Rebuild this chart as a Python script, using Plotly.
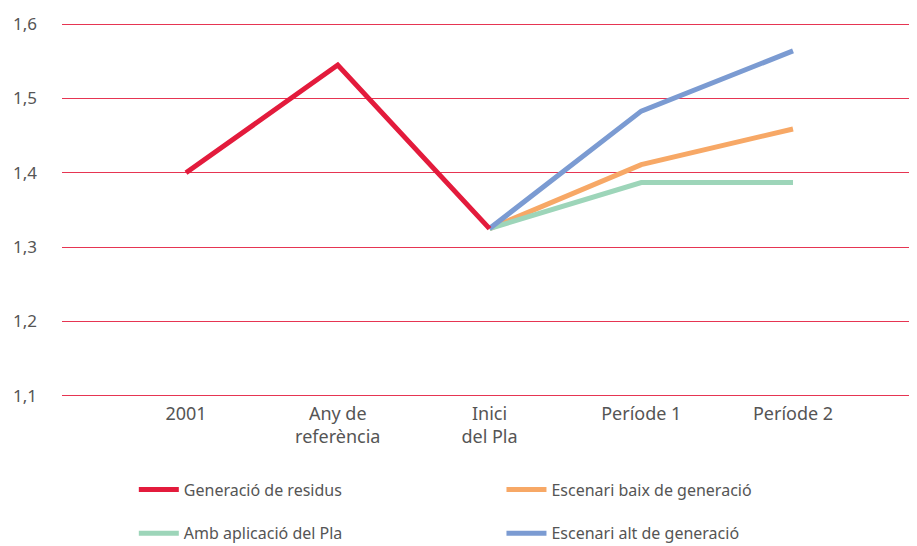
import plotly.graph_objects as go

categories = ["2001", "Any de<br>referència", "Inici<br>del Pla", "Període 1", "Període 2"]
generacio = [1.40, 1.545, 1.325, None, None]
baix = [None, None, 1.325, 1.411, 1.459]
amb_pla = [None, None, 1.325, 1.387, 1.387]
alt = [None, None, 1.325, 1.483, 1.564]
y_ticks = [1.1, 1.2, 1.3, 1.4, 1.5, 1.6]

FONT = "Noto Sans"
GRAY = "#555555"

fig = go.Figure()
series = [
    ("Generació de residus", generacio, "#e31b3c", "legend", "g1"),
    ("Escenari baix de generació", baix, "#f7a866", "legend2", "g2"),
    ("Amb aplicació del Pla", amb_pla, "#9dd5b9", "legend", "g3"),
    ("Escenari alt de generació", alt, "#7b9bd2", "legend2", "g4"),
]
x_idx = list(range(len(categories)))
order = [1, 2, 3, 0]
for i in order:
    name, vals, col, leg, grp = series[i]
    fig.add_trace(go.Scatter(
        x=x_idx, y=vals, mode="lines", name=name,
        line=dict(color=col, width=5),
        legend=leg, legendgroup=grp, legendrank=i,
        connectgaps=False, hoverinfo="skip",
    ))

# page has an 8px body margin, so the figure is drawn offset by (8, 8)
fig.update_layout(
    width=909, height=538,
    margin=dict(l=54, r=0, t=15, b=149, autoexpand=False),
    paper_bgcolor="white", plot_bgcolor="white",
    separators=",.",
    font=dict(family=FONT, color=GRAY, size=16),
    showlegend=True,
    legend=dict(x=0.084, y=-0.202, xanchor="left", yanchor="top",
                orientation="v", tracegroupgap=20, itemwidth=40,
                font=dict(size=16, color=GRAY, family=FONT),
                bgcolor="rgba(0,0,0,0)"),
    legend2=dict(x=0.514, y=-0.202, xanchor="left", yanchor="top",
                 orientation="v", tracegroupgap=20, itemwidth=40,
                 font=dict(size=16, color=GRAY, family=FONT),
                 bgcolor="rgba(0,0,0,0)"),
)
fig.update_xaxes(
    tickmode="array", tickvals=x_idx, ticktext=categories,
    range=[-0.817, 4.817], showgrid=False, zeroline=False, showline=False,
    ticks="", ticklabelstandoff=4, tickfont=dict(size=18, color=GRAY),
)
fig.update_yaxes(
    range=[1.0985, 1.6015], tickvals=y_ticks, tickformat=".1f",
    showgrid=True, gridcolor="#e63552", gridwidth=1,
    zeroline=False, showline=False, ticks="",
    ticklabelstandoff=24, tickfont=dict(size=17, color=GRAY),
)

fig.write_html("out.html")
